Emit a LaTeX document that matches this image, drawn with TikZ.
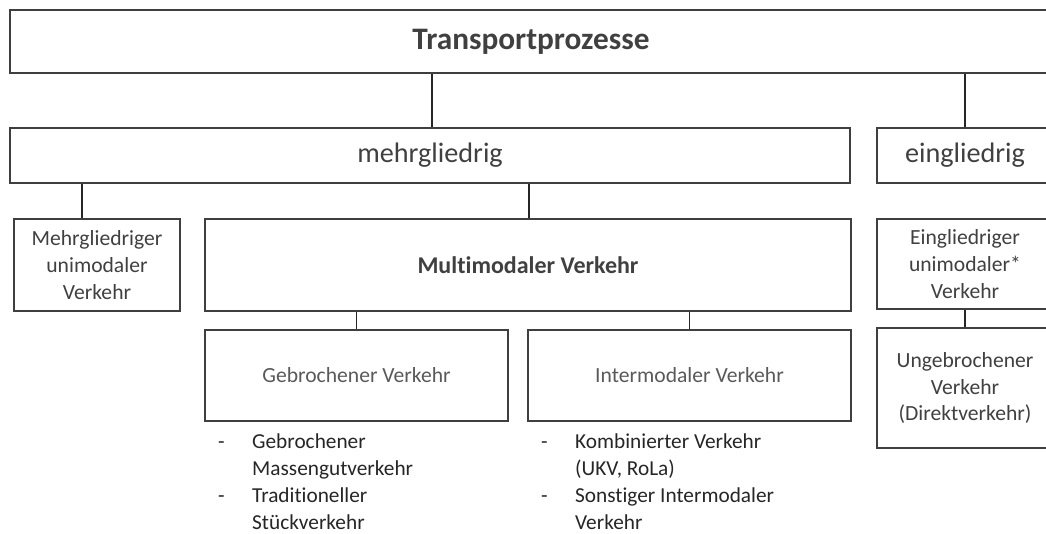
\documentclass[tikz,border=0pt]{standalone}
\usepackage{fontspec}
\setmainfont[Ligatures=NoCommon]{Carlito}
\definecolor{boxgray}{HTML}{3F3F3F}
\definecolor{textgray}{HTML}{404040}
\definecolor{softgray}{HTML}{595959}
\tikzset{
  box/.style={draw=boxgray, line width=2.6pt, inner sep=0pt, align=center, text=textgray,
    font=\fontsize{21.6}{26.7}\selectfont},
  link/.style={draw=black!85, line width=1.1pt},
  bullets/.style={anchor=north west, inner sep=0pt, text=black!85, font=\fontsize{21.3}{26.8}\selectfont},
}
\begin{document}
\begin{tikzpicture}[x=1pt,y=-1pt]
    \clip (0,0) rectangle (1046,534);

    \node[box, minimum width=1042pt, minimum height=63pt, font=\fontsize{31.3}{36}\selectfont\bfseries] (top) at(531, 41.5){Transportprozesse};

    \node[box, minimum width=840pt, minimum height=55pt, font=\fontsize{28.2}{34}\selectfont] (mehr) at(430, 155.5){mehrgliedrig};
    \node[box, minimum width=176pt, minimum height=55pt, font=\fontsize{28.2}{34}\selectfont] (ein) at(965, 155.5){eingliedrig};

    \node[box, minimum width=166pt, minimum height=92pt] (mguv) at(97, 265){Mehrgliedriger\\unimodaler\\Verkehr};
    \node[box, minimum width=646pt, minimum height=92pt, font=\fontsize{24}{28}\selectfont\bfseries] (multi) at(528, 265){Multimodaler Verkehr};
    \node[box, minimum width=176pt, minimum height=90pt] (eguv) at(965, 264){Eingliedriger\\unimodaler*\\Verkehr};

    \node[box, minimum width=303pt, minimum height=91pt, text=softgray] (gebr) at(356.5, 375.5){Gebrochener Verkehr};
    \node[box, minimum width=323pt, minimum height=91pt, text=softgray] (inter) at(689.5, 375.5){Intermodaler Verkehr};
    \node[box, minimum width=176pt, minimum height=120pt] (ungeb) at(965, 388){Ungebrochener\\Verkehr\\(Direktverkehr)};

    \draw[link] ([xshift=2pt]mehr.north) -- ([xshift=2pt]mehr.north |- top.south);
    \draw[link] (ein.north) -- (ein.north |- top.south);
    \draw[link] ([xshift=-15pt]mguv.north) -- ([xshift=-15pt]mguv.north |- mehr.south);
    \draw[link] ([xshift=1pt]multi.north) -- ([xshift=1pt]multi.north |- mehr.south);
    \draw[link] (gebr.north) -- (gebr.north |- multi.south);
    \draw[link] (inter.north) -- (inter.north |- multi.south);
    \draw[link] (eguv.south) -- (ungeb.north);

    \node[bullets] (gebrlist) at(218, 430){\begin{tabular}{@{}p{34pt}@{}l@{}}
        -&Gebrochener\\&Massengutverkehr\\-&Traditioneller\\&Stückverkehr\end{tabular}};
    \node[bullets] (interlist) at(541, 430){\begin{tabular}{@{}p{34pt}@{}l@{}}
        -&Kombinierter Verkehr\\&(UKV, RoLa)\\-&Sonstiger Intermodaler\\&Verkehr\end{tabular}};
\end{tikzpicture}
\end{document}
